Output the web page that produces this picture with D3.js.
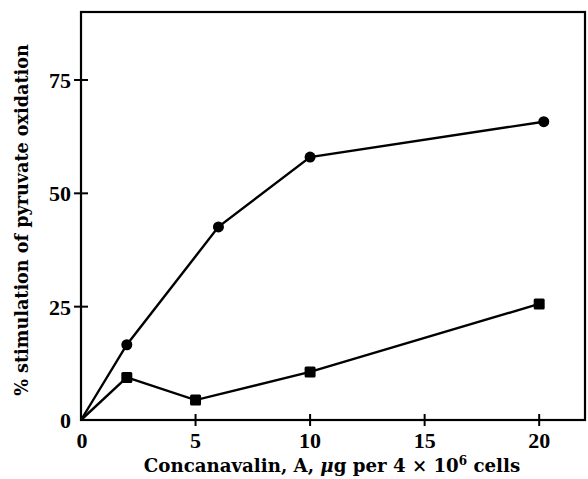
<!DOCTYPE html>
<html><head><meta charset="utf-8">
<script src="https://cdn.jsdelivr.net/npm/d3@7"></script>
<style>body{margin:0;background:#fff}svg{display:block}text{font-family:"DejaVu Serif",serif;font-weight:bold;fill:#000}.tk{font-family:"Liberation Serif",serif}</style>
</head><body>
<script>
const circleX = [0, 2, 6, 10, 20.2];
const circleY = [0, 16.6, 42.6, 58, 65.8];
const squareX = [0, 2, 5, 10, 20];
const squareY = [0, 9.4, 4.4, 10.6, 25.6];
const xTicks = [0, 5, 10, 15, 20];
const yTicks = [0, 25, 50, 75];
const xTitle = "Concanavalin, A, ";
const yTitle = "% stimulation of pyruvate oxidation";

const W = 588, H = 479;
const m = {l: 81, r: 3, t: 12, b: 59};
const svg = d3.select("body").append("svg").attr("width", W).attr("height", H);
const x = d3.scaleLinear().domain([0, 22]).range([m.l, W - m.r]);
const y = d3.scaleLinear().domain([0, 90]).range([H - m.b, m.t]);

// box
svg.append("rect").attr("x", x(0)).attr("y", y(90)).attr("width", x(22) - x(0)).attr("height", y(0) - y(90))
  .attr("fill", "none").attr("stroke", "#000").attr("stroke-width", 2.2);

// ticks crossing
const xa = svg.append("g").attr("transform", `translate(0,${y(0)})`);
xa.selectAll("line").data(xTicks.filter(d => d > 0)).join("line")
  .attr("x1", d => x(d)).attr("x2", d => x(d)).attr("y1", -6).attr("y2", 6).attr("stroke", "#000").attr("stroke-width", 2);
xa.selectAll("text").data(xTicks).join("text").attr("class", "tk")
  .attr("x", d => x(d) + (d === 0 ? 1 : 0)).attr("y", 28).attr("text-anchor", "middle").attr("font-size", 22).text(d => d);

const ya = svg.append("g").attr("transform", `translate(${x(0)},0)`);
ya.selectAll("line").data(yTicks.filter(d => d > 0)).join("line")
  .attr("y1", d => y(d)).attr("y2", d => y(d)).attr("x1", -7).attr("x2", 7).attr("stroke", "#000").attr("stroke-width", 2);
ya.selectAll("text").data(yTicks).join("text").attr("class", "tk")
  .attr("x", -10).attr("y", d => y(d) + 8).attr("text-anchor", "end").attr("font-size", 22).text(d => d);

// titles
const xt = svg.append("text").attr("x", 332).attr("y", 472).attr("text-anchor", "middle").attr("font-size", 18.2);
xt.append("tspan").text(xTitle);
xt.append("tspan").attr("font-style", "italic").text("μ");
xt.append("tspan").text("g per 4 × 10");
xt.append("tspan").attr("dy", -7).attr("font-size", 12).text("6");
xt.append("tspan").attr("dy", 7).text(" cells");

svg.append("text").attr("transform", "translate(28,220) rotate(-90)").attr("text-anchor", "middle")
  .attr("font-size", 17.6).text(yTitle);

// lines
const line = d3.line().x(d => x(d[0])).y(d => y(d[1]));
const cData = circleX.map((v, i) => [v, circleY[i]]);
const sData = squareX.map((v, i) => [v, squareY[i]]);
svg.append("path").datum(cData).attr("d", line).attr("fill", "none").attr("stroke", "#000").attr("stroke-width", 2.4);
svg.append("path").datum(sData).attr("d", line).attr("fill", "none").attr("stroke", "#000").attr("stroke-width", 2.4);
svg.selectAll("circle.c").data(cData.slice(1)).join("circle").attr("class", "c")
  .attr("cx", d => x(d[0])).attr("cy", d => y(d[1])).attr("r", 5.5).attr("fill", "#000");
svg.selectAll("rect.s").data(sData.slice(1)).join("rect").attr("class", "s")
  .attr("x", d => x(d[0]) - 5.5).attr("y", d => y(d[1]) - 5.5).attr("width", 11).attr("height", 11).attr("rx", 1.5).attr("fill", "#000");
</script>
</body></html>
